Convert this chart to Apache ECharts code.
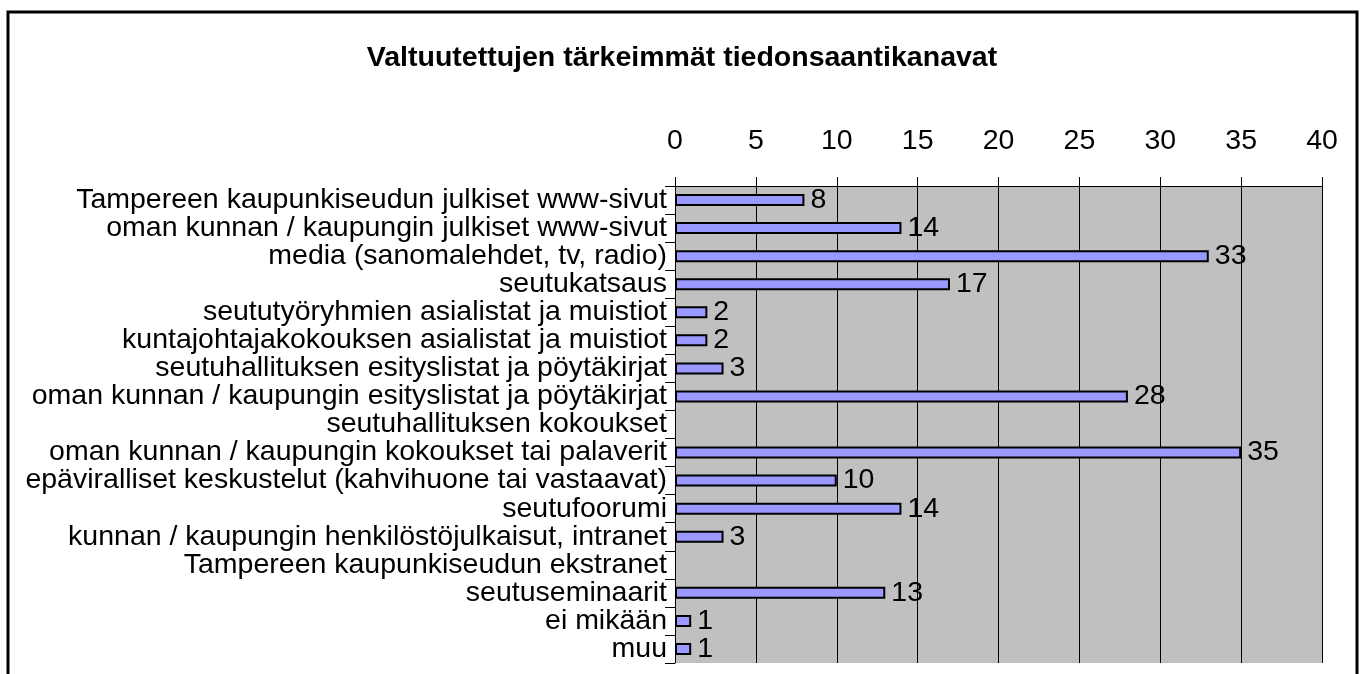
<!DOCTYPE html>
<html>
<head>
<meta charset="utf-8">
<script src="https://cdn.jsdelivr.net/npm/echarts@6/dist/echarts.min.js"></script>
<style>
  html, body { margin: 0; padding: 0; background: #fff; }
  #chart { width: 1364px; height: 674px; }
</style>
</head>
<body>
<div id="chart"></div>
<script>
const categories = [
  'Tampereen kaupunkiseudun julkiset www-sivut',
  'oman kunnan / kaupungin julkiset www-sivut',
  'media (sanomalehdet, tv, radio)',
  'seutukatsaus',
  'seututyöryhmien asialistat ja muistiot',
  'kuntajohtajakokouksen asialistat ja muistiot',
  'seutuhallituksen esityslistat ja pöytäkirjat',
  'oman kunnan / kaupungin esityslistat ja pöytäkirjat',
  'seutuhallituksen kokoukset',
  'oman kunnan / kaupungin kokoukset tai palaverit',
  'epäviralliset keskustelut (kahvihuone tai vastaavat)',
  'seutufoorumi',
  'kunnan / kaupungin henkilöstöjulkaisut, intranet',
  'Tampereen kaupunkiseudun ekstranet',
  'seutuseminaarit',
  'ei mikään',
  'muu'
]
const values = [8, 14, 33, 17, 2, 2, 3, 28, null, 35, 10, 14, 3, null, 13, 1, 1]
const xTicks = [0, 5, 10, 15, 20, 25, 30, 35, 40]

const font = 'Liberation Sans, Arial, sans-serif'

const chart = echarts.init(document.getElementById('chart'))
chart.setOption({
  animation: false,
  backgroundColor: '#fff',
  title: {
    text: 'Valtuutettujen tärkeimmät tiedonsaantikanavat',
    left: 'center',
    top: 39,
    textStyle: { fontFamily: font, fontSize: 28.5, fontWeight: 'bold', color: '#000' }
  },
  graphic: [{
    type: 'rect',
    shape: { x: 8, y: 12, width: 1349, height: 700 },
    style: { fill: 'none', stroke: '#000', lineWidth: 3 },
    silent: true
  }],
  grid: {
    left: 675, right: 42, top: 186, bottom: 11,
    show: true, backgroundColor: '#c0c0c0', borderWidth: 0
  },
  xAxis: {
    type: 'value',
    position: 'top',
    min: xTicks[0],
    max: xTicks[xTicks.length - 1],
    interval: 5,
    axisLine: { show: true, lineStyle: { color: '#000', width: 1 } },
    axisTick: { show: true, length: 9, inside: false, lineStyle: { color: '#000' } },
    splitLine: { show: true, lineStyle: { color: '#000', width: 1 } },
    axisLabel: { fontFamily: font, fontSize: 28.5, color: '#000', margin: 30 }
  },
  yAxis: {
    type: 'category',
    inverse: true,
    data: categories,
    axisLine: { show: true, lineStyle: { color: '#000', width: 1 } },
    axisTick: { show: true, length: 10, lineStyle: { color: '#000' } },
    axisLabel: {
      fontFamily: font, fontSize: 28.5, color: '#000', margin: 8,
      lineHeight: 28, interval: 0, hideOverlap: false
    }
  },
  series: [{
    type: 'bar',
    data: values,
    barWidth: 12,
    itemStyle: { color: '#9999ff', borderColor: '#000', borderWidth: 2 },
    label: {
      show: true,
      position: 'right',
      distance: 6,
      fontFamily: font,
      fontSize: 28.5,
      color: '#000'
    }
  }]
})
</script>
</body>
</html>
